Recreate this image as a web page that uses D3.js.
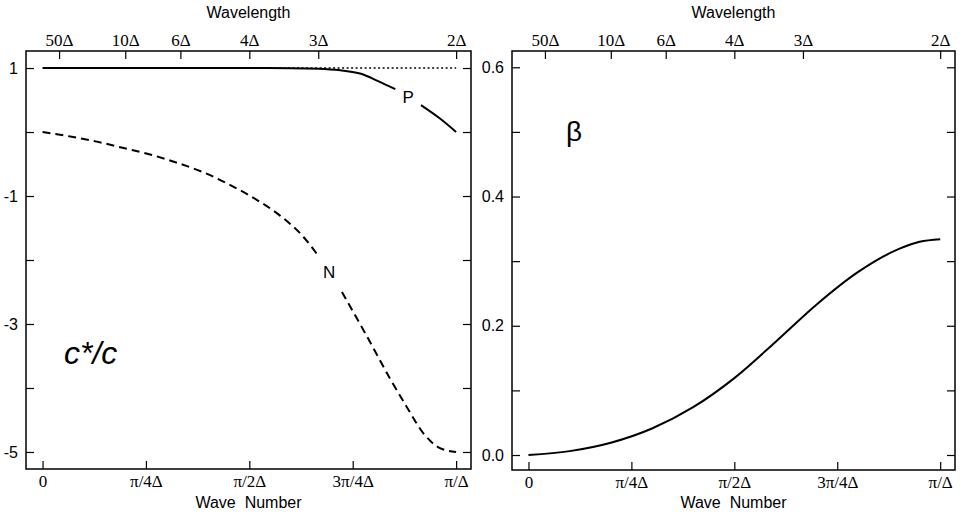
<!DOCTYPE html>
<html lang="en">
  <head>
    <meta charset="utf-8">
    <title>Phase speed and damping</title>
    <style>
      body { margin: 0; background: #fff; }
      .sans { font-family: "Liberation Sans", Arial, sans-serif; }
      .serif { font-family: "Liberation Serif", "Times New Roman", serif; }
    </style>
    <script src="https://d3js.org/d3.v7.min.js"></script>
  </head>
  <body>
    <div id="viz"></div>
    <script>

    // wave number in units of pi/dx
    var kTicks = [0, 0.25, 0.5, 0.75, 1];
    var kLabels = ['0', '\u03c0/4\u0394', '\u03c0/2\u0394', '3\u03c0/4\u0394', '\u03c0/\u0394'];

    // wavelengths (in dx) for the top axis
    var wavelengths = [50, 10, 6, 4, 3, 2];

    // left panel: c*/c, physical (P) and computational (N) modes
    var pK = [0, 0.3, 0.5, 0.6, 0.667, 0.72, 0.77, 0.81, 0.853, null, 0.915, 0.961, 1.0];
    var pV = [1, 1, 1, 0.998, 0.99, 0.965, 0.91, 0.8, 0.67, null, 0.42, 0.21, 0.0];

    var nK = [0, 0.067, 0.131, 0.196, 0.26, 0.325, 0.389, 0.454, 0.518, 0.575, 0.631, 0.663, null,
              0.724, 0.785, 0.84, 0.881, 0.92, 0.961, 1.0];
    var nV = [0, -0.07, -0.15, -0.25, -0.35, -0.48, -0.63, -0.83, -1.06, -1.31, -1.64, -1.9, null,
              -2.5, -3.2, -3.85, -4.3, -4.7, -4.94, -5.0];

    var exactK = [0.3, 1.0];
    var exactV = [1, 1];

    var leftTicks = [1, 0, -1, -2, -3, -4, -5];
    var leftLabeled = [1, -1, -3, -5];

    // right panel: beta
    var bK = [0, 0.1, 0.2, 0.3, 0.4, 0.5, 0.6, 0.7, 0.8, 0.9, 0.95, 1.0];
    var bV = [0, 0.006, 0.019, 0.041, 0.074, 0.119, 0.175, 0.233, 0.283, 0.319, 0.33, 0.334];

    var rightTicks = [0, 0.1, 0.2, 0.3, 0.4, 0.5, 0.6];
    var rightLabeled = [0, 0.2, 0.4, 0.6];

    var svg = d3.select('#viz')
        .append('svg')
        .attr('width', 965)
        .attr('height', 525);

    function zip(ks, vs) {
      return ks.map(function(k, i) { return { k: k, v: vs[i] }; });
    }

    function panel(opts) {
      var g = svg.append('g');
      var x = d3.scaleLinear().domain([-0.04, 1.036]).range([opts.left, opts.right]);
      var y = d3.scaleLinear().domain(opts.yDomain).range([opts.bottom, opts.top]);

      // frame
      g.append('rect')
        .attr('x', opts.left).attr('y', opts.top)
        .attr('width', opts.right - opts.left)
        .attr('height', opts.bottom - opts.top)
        .attr('fill', 'none')
        .attr('stroke', '#000')
        .attr('stroke-width', 1.5);

      // bottom axis (wave number)
      var bottomAxis = d3.axisBottom(x)
        .tickValues(kTicks)
        .tickFormat(function(d, i) { return kLabels[i]; })
        .tickSizeInner(-8).tickSizeOuter(0).tickPadding(6);
      var gb = g.append('g')
        .attr('transform', 'translate(0,' + opts.bottom + ')')
        .call(bottomAxis);

      // top axis (wavelength)
      var topAxis = d3.axisTop(x)
        .tickValues(wavelengths.map(function(n) { return 2 / n; }))
        .tickFormat(function(d, i) { return wavelengths[i] + '\u0394'; })
        .tickSizeInner(-8).tickSizeOuter(0).tickPadding(5);
      var gt = g.append('g')
        .attr('transform', 'translate(0,' + opts.top + ')')
        .call(topAxis);

      [gb, gt].forEach(function(a) {
        a.selectAll('text').attr('class', 'serif').style('font-size', '17px').attr('fill', '#000');
      });

      // left + right axes
      var leftAxis = d3.axisLeft(y)
        .tickValues(opts.yTicks)
        .tickFormat(function(d) {
          return opts.yLabeled.indexOf(d) >= 0 ? opts.yFormat(d) : '';
        })
        .tickSizeInner(-8).tickSizeOuter(0).tickPadding(8);
      var gl = g.append('g')
        .attr('transform', 'translate(' + opts.left + ',0)')
        .call(leftAxis);
      gl.selectAll('text').attr('class', 'sans').style('font-size', '16px').attr('fill', '#000');

      var rightAxis = d3.axisRight(y)
        .tickValues(opts.yTicks)
        .tickFormat('')
        .tickSizeInner(-8).tickSizeOuter(0);
      g.append('g')
        .attr('transform', 'translate(' + opts.right + ',0)')
        .call(rightAxis);

      g.selectAll('.domain').remove();
      g.selectAll('.tick line').attr('stroke', '#000').attr('stroke-width', 1.2);

      // axis titles
      var cx = (opts.left + opts.right) / 2;
      g.append('text').attr('class', 'sans')
        .attr('x', cx).attr('y', 18)
        .attr('text-anchor', 'middle')
        .style('font-size', '16px')
        .text('Wavelength');
      g.append('text').attr('class', 'sans')
        .attr('x', cx).attr('y', 508)
        .attr('text-anchor', 'middle')
        .style('font-size', '16px')
        .text('Wave\u00a0\u00a0Number');

      return { g: g, x: x, y: y };
    }

    function drawLine(p, ks, vs, dash) {
      var line = d3.line()
        .defined(function(d) { return d.k !== null && d.v !== null; })
        .x(function(d) { return p.x(d.k); })
        .y(function(d) { return p.y(d.v); })
        .curve(d3.curveMonotoneX);
      p.g.append('path')
        .datum(zip(ks, vs))
        .attr('d', line)
        .attr('fill', 'none')
        .attr('stroke', '#000')
        .attr('stroke-width', dash === 'dot' ? 1.6 : 2)
        .attr('stroke-dasharray', dash === 'dash' ? '8,5' : dash === 'dot' ? '2,2.5' : null);
    }

    var left = panel({
      left: 26, right: 471, top: 51, bottom: 469,
      yDomain: [-5.266, 1.266],
      yTicks: leftTicks, yLabeled: leftLabeled,
      yFormat: function(d) { return String(d); }
    });

    drawLine(left, pK, pV, null);
    drawLine(left, exactK, exactV, 'dot');
    drawLine(left, nK, nV, 'dash');

    left.g.append('text').attr('class', 'sans')
      .attr('x', left.x(0.884)).attr('y', left.y(0.45))
      .attr('text-anchor', 'middle')
      .style('font-size', '17px')
      .text('P');
    left.g.append('text').attr('class', 'sans')
      .attr('x', left.x(0.693)).attr('y', left.y(-2.28))
      .attr('text-anchor', 'middle')
      .style('font-size', '17px')
      .text('N');
    left.g.append('text').attr('class', 'sans')
      .attr('x', 64).attr('y', 364)
      .style('font-size', '32px')
      .style('font-style', 'italic')
      .text('c*/c');

    var right = panel({
      left: 512, right: 955, top: 51, bottom: 470,
      yDomain: [-0.0232, 0.6252],
      yTicks: rightTicks, yLabeled: rightLabeled,
      yFormat: d3.format('.1f')
    });

    drawLine(right, bK, bV, null);

    right.g.append('text').attr('class', 'sans')
      .attr('x', 566).attr('y', 141)
      .style('font-size', '28px')
      .text('\u03b2');

    </script>
  </body>
</html>
